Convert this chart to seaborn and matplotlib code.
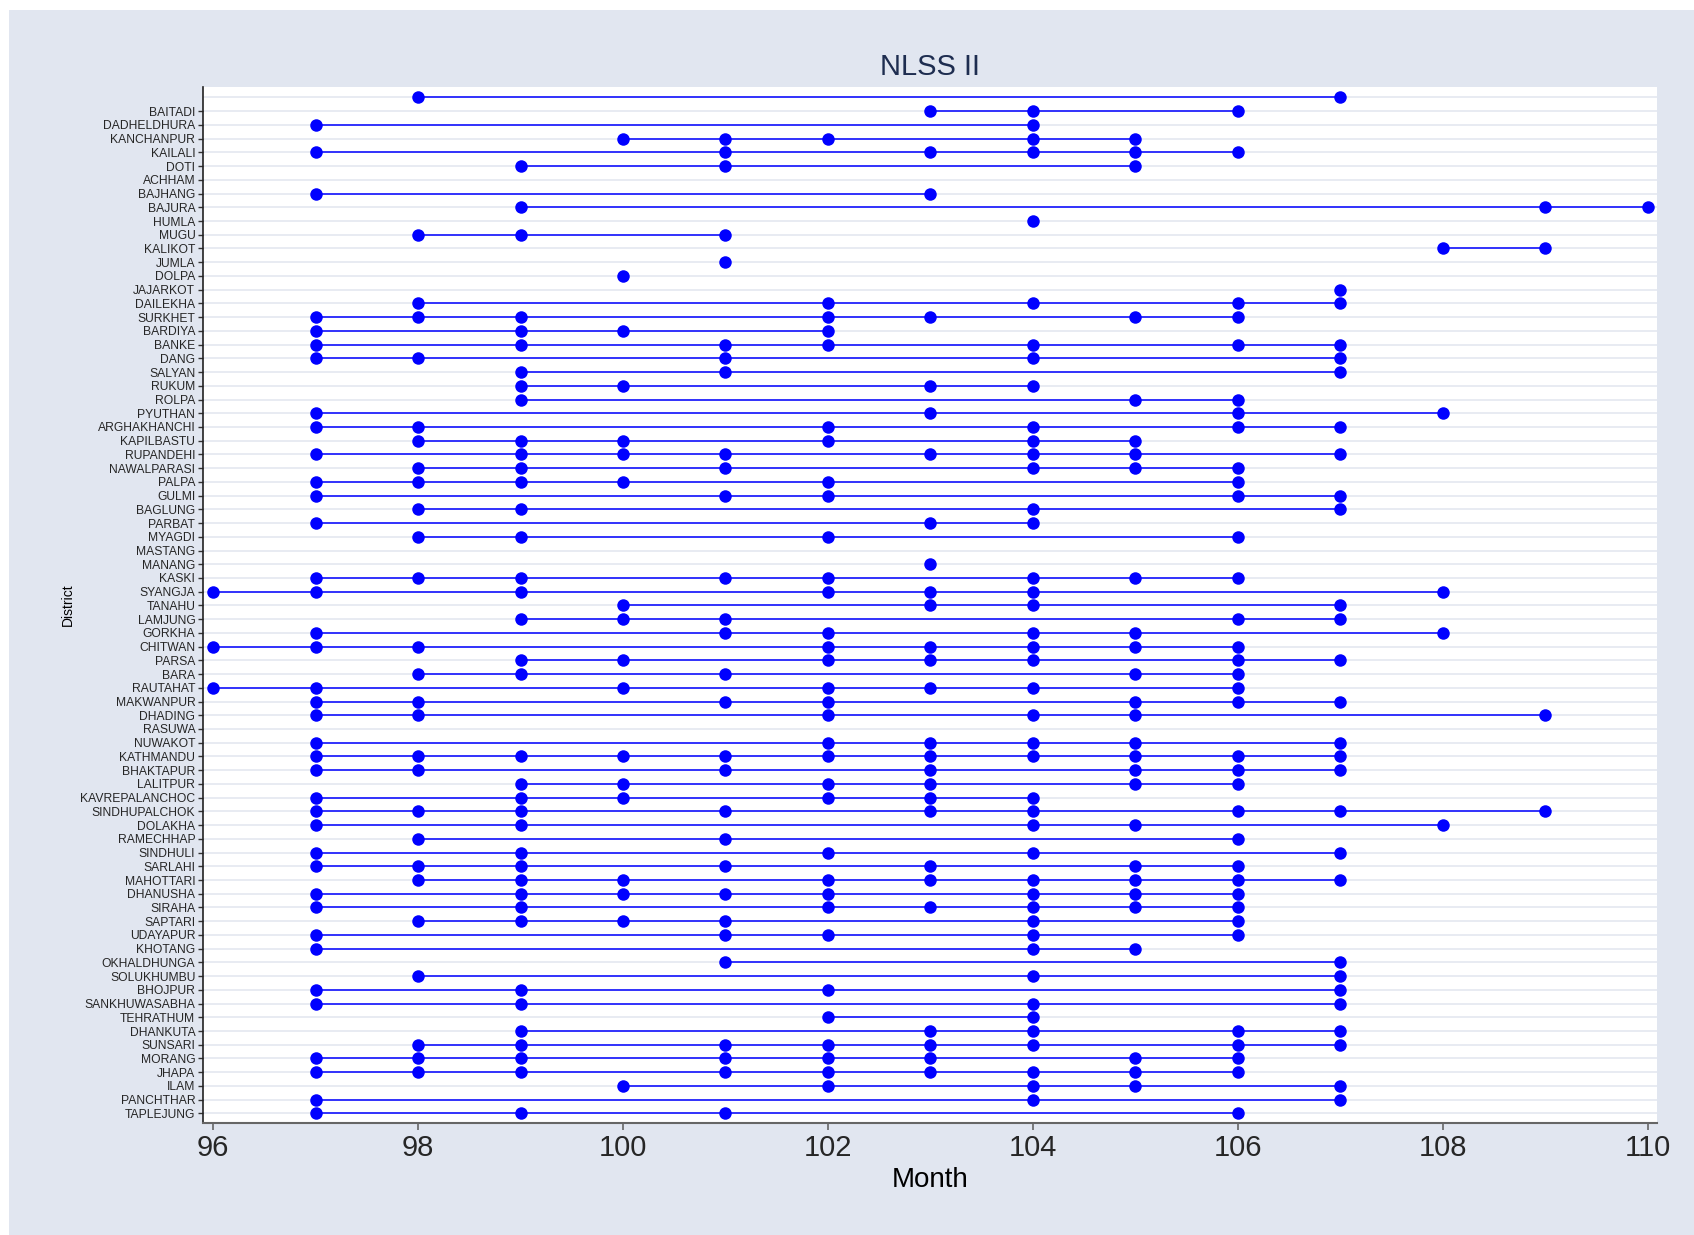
import matplotlib
matplotlib.use("Agg")
import matplotlib.pyplot as plt
from matplotlib.patches import Rectangle
import pandas as pd
import seaborn as sns

# districts from top to bottom (top row has no label)
districts = [
    "", "BAITADI", "DADHELDHURA", "KANCHANPUR", "KAILALI", "DOTI", "ACHHAM",
    "BAJHANG", "BAJURA", "HUMLA", "MUGU", "KALIKOT", "JUMLA", "DOLPA",
    "JAJARKOT", "DAILEKHA", "SURKHET", "BARDIYA", "BANKE", "DANG", "SALYAN",
    "RUKUM", "ROLPA", "PYUTHAN", "ARGHAKHANCHI", "KAPILBASTU", "RUPANDEHI",
    "NAWALPARASI", "PALPA", "GULMI", "BAGLUNG", "PARBAT", "MYAGDI", "MASTANG",
    "MANANG", "KASKI", "SYANGJA", "TANAHU", "LAMJUNG", "GORKHA", "CHITWAN",
    "PARSA", "BARA", "RAUTAHAT", "MAKWANPUR", "DHADING", "RASUWA", "NUWAKOT",
    "KATHMANDU", "BHAKTAPUR", "LALITPUR", "KAVREPALANCHOC", "SINDHUPALCHOK",
    "DOLAKHA", "RAMECHHAP", "SINDHULI", "SARLAHI", "MAHOTTARI", "DHANUSHA",
    "SIRAHA", "SAPTARI", "UDAYAPUR", "KHOTANG", "OKHALDHUNGA", "SOLUKHUMBU",
    "BHOJPUR", "SANKHUWASABHA", "TEHRATHUM", "DHANKUTA", "SUNSARI", "MORANG",
    "JHAPA", "ILAM", "PANCHTHAR", "TAPLEJUNG",
]

# survey months per row, same order as districts
months = [
    [98, 107],
    [103, 104, 106],
    [97, 104],
    [100, 101, 102, 104, 105],
    [97, 101, 103, 104, 105, 106],
    [99, 101, 105],
    [],
    [97, 103],
    [99, 109, 110],
    [104],
    [98, 99, 101],
    [108, 109],
    [101],
    [100],
    [107],
    [98, 102, 104, 106, 107],
    [97, 98, 99, 102, 103, 105, 106],
    [97, 99, 100, 102],
    [97, 99, 101, 102, 104, 106, 107],
    [97, 98, 101, 104, 107],
    [99, 101, 107],
    [99, 100, 103, 104],
    [99, 105, 106],
    [97, 103, 106, 108],
    [97, 98, 102, 104, 106, 107],
    [98, 99, 100, 102, 104, 105],
    [97, 99, 100, 101, 103, 104, 105, 107],
    [98, 99, 101, 104, 105, 106],
    [97, 98, 99, 100, 102, 106],
    [97, 101, 102, 106, 107],
    [98, 99, 104, 107],
    [97, 103, 104],
    [98, 99, 102, 106],
    [],
    [103],
    [97, 98, 99, 101, 102, 104, 105, 106],
    [96, 97, 99, 102, 103, 104, 108],
    [100, 103, 104, 107],
    [99, 100, 101, 106, 107],
    [97, 101, 102, 104, 105, 108],
    [96, 97, 98, 102, 103, 104, 105, 106],
    [99, 100, 102, 103, 104, 106, 107],
    [98, 99, 101, 105, 106],
    [96, 97, 100, 102, 103, 104, 106],
    [97, 98, 101, 102, 105, 106, 107],
    [97, 98, 102, 104, 105, 109],
    [],
    [97, 102, 103, 104, 105, 107],
    [97, 98, 99, 100, 101, 102, 103, 104, 105, 106, 107],
    [97, 98, 101, 103, 105, 106, 107],
    [99, 100, 102, 103, 105, 106],
    [97, 99, 100, 102, 103, 104],
    [97, 98, 99, 101, 103, 104, 106, 107, 109],
    [97, 99, 104, 105, 108],
    [98, 101, 106],
    [97, 99, 102, 104, 107],
    [97, 98, 99, 101, 103, 105, 106],
    [98, 99, 100, 102, 103, 104, 105, 106, 107],
    [97, 99, 100, 101, 102, 104, 105, 106],
    [97, 99, 102, 103, 104, 105, 106],
    [98, 99, 100, 101, 104, 106],
    [97, 101, 102, 104, 106],
    [97, 104, 105],
    [101, 107],
    [98, 104, 107],
    [97, 99, 102, 107],
    [97, 99, 104, 107],
    [102, 104],
    [99, 103, 104, 106, 107],
    [98, 99, 101, 102, 103, 104, 106, 107],
    [97, 98, 99, 101, 102, 103, 105, 106],
    [97, 98, 99, 101, 102, 103, 104, 105, 106],
    [100, 102, 104, 105, 107],
    [97, 104, 107],
    [97, 99, 101, 106],
]

x_ticks = [96, 98, 100, 102, 104, 106, 108, 110]

rows = []
for i, (name, ms) in enumerate(zip(districts, months)):
    for m in ms:
        rows.append({"row": i, "district": name, "month": m})
df = pd.DataFrame(rows)

sns.set_theme(style="white")
plt.rcParams["font.family"] = ["Liberation Sans", "DejaVu Sans"]

bg = "#E1E6F0"
fig = plt.figure(figsize=(16.94, 12.35), dpi=100)
fig.patch.set_facecolor("white")
fig.patches.append(Rectangle((9 / 1694, 0), 1, 1 - 10 / 1235, transform=fig.transFigure,
                             facecolor=bg, edgecolor="none", zorder=-10))
ax = fig.add_axes([0.1198, 0.0909, 0.978 - 0.1198, 0.9293 - 0.0909])
ax.set_facecolor("white")

# horizontal grid lines at every row
for i in range(len(districts)):
    ax.axhline(i, color="#E6E9F1", lw=1.3, zorder=0)

sns.lineplot(data=df, x="month", y="row", units="row", estimator=None, sort=True,
             color="#0000FF", lw=1.1, marker="o", markersize=9, markeredgewidth=0,
             legend=False, ax=ax, zorder=3)

ax.set_xlim(95.9, 110.09)
ax.set_ylim(len(districts) - 1 + 0.68, -0.74)
# the unlabeled top row gets no tick mark
ax.set_yticks(range(1, len(districts)))
ax.set_yticklabels(districts[1:], fontsize=8.7)
ax.set_xticks(x_ticks)
ax.set_xticklabels([str(t) for t in x_ticks], fontsize=21)

ax.tick_params(axis="y", which="major", left=True, length=3.5, width=1, color="#333333", pad=2)
ax.tick_params(axis="x", which="major", bottom=True, length=5, width=1.2, color="#666666", pad=3)

for s in ["top", "right"]:
    ax.spines[s].set_visible(False)
ax.spines["left"].set_color("#222222")
ax.spines["left"].set_linewidth(1.2)
ax.spines["bottom"].set_color("#666666")
ax.spines["bottom"].set_linewidth(1.5)

ax.set_xlabel("Month", fontsize=20, labelpad=4, color="black")
ax.set_ylabel("District", fontsize=10, labelpad=4, color="black")
fig.text(930 / 1694, 1 - 67 / 1235, "NLSS II", ha="center", va="center",
         fontsize=21, color="#1E2D50")

fig.savefig("out.png", dpi=100, facecolor=fig.get_facecolor())
